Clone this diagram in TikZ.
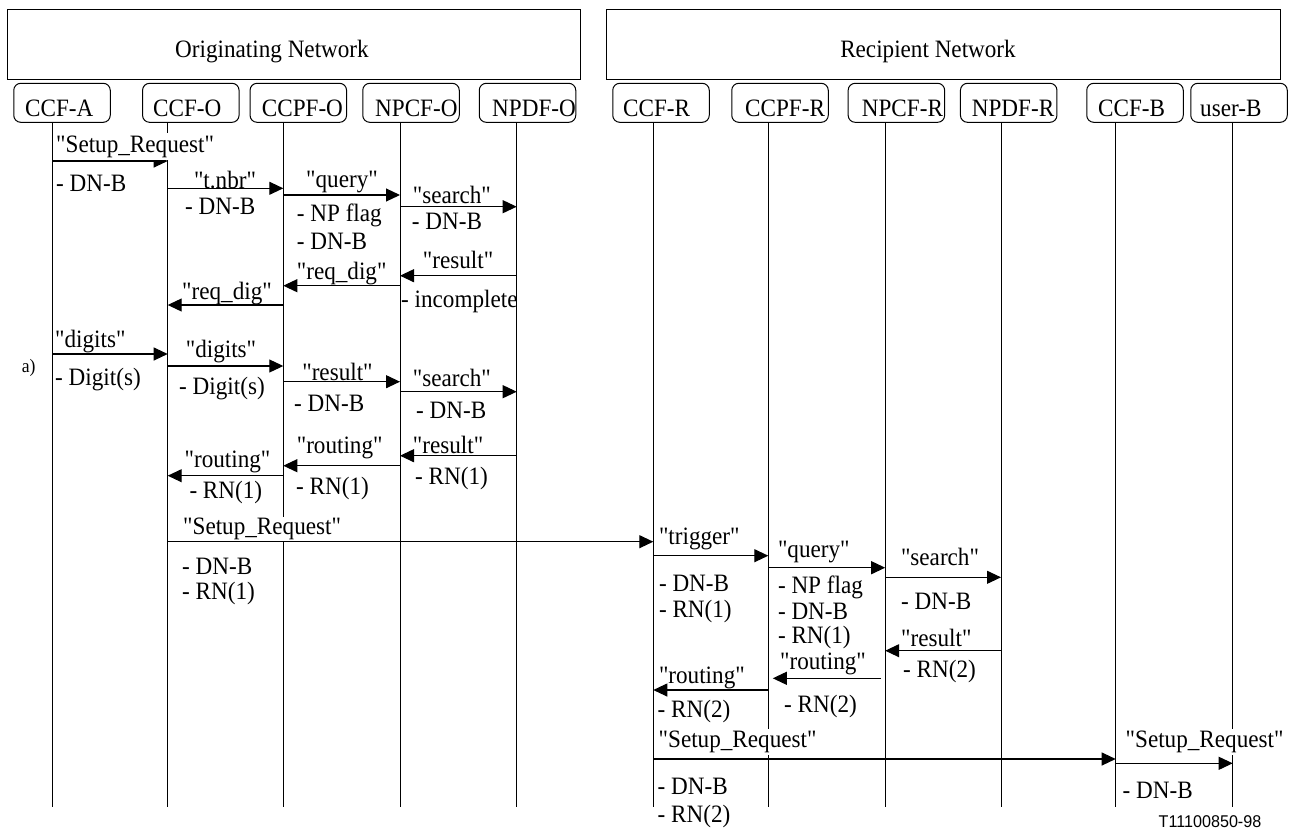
\documentclass[tikz,border=0pt]{standalone}
\usepackage{fontspec}
\setmainfont{Liberation Serif}[Ligatures=TeXOff, FakeStretch=0.926]
\newfontfamily\figsans{Liberation Sans}[FakeStretch=0.95]
\usetikzlibrary{arrows.meta}
\newcommand\lblfont{\fontsize{25pt}{29pt}\selectfont}
\newcommand\msgline[3]{\draw[msg] (#1 |- 0,#3) -- (#2 |- 0,#3);}
\newcommand\lifeline[1]{\draw[life] (#1) -- (#1 |- 0,806.7);}
\begin{document}
\begin{tikzpicture}[x=1pt,y=-1pt,
  every node/.style={inner sep=0pt, font=\lblfont},
  netbox/.style={draw, line width=1pt, minimum height=69.7pt},
  hdrbox/.style={draw, line width=1pt, rounded corners=7pt, minimum width=96.5pt, minimum height=39pt},
  hdrtxt/.style={anchor=base west},
  life/.style={line width=1pt},
  msg/.style={line width=1.1pt, -{Triangle[length=14pt,width=13pt]}},
  lab/.style={anchor=west},
  clab/.style={anchor=center},
  covlab/.style={fill=white, inner xsep=1pt, inner ysep=2pt, anchor=west},
]
\useasboundingbox (0,0) rectangle (1295,830);

% network boxes
\node[netbox, minimum width=572.7pt] (orig) at (293.65,44.15) {};
\node[anchor=base] (origtxt) at (272,57.3) {Originating Network};
\node[netbox, minimum width=674pt] (recip) at (943,44.15) {};
\node[anchor=base] (reciptxt) at (928,57.3) {Recipient Network};

% header boxes
\node[hdrbox] (ccfA)  at (62,102.8) {};
\node[hdrbox] (ccfO)  at (190.8,102.8) {};
\node[hdrbox] (ccpfO) at (298.3,102.8) {};
\node[hdrbox] (npcfO) at (411,102.8) {};
\node[hdrbox] (npdfO) at (527.5,102.8) {};
\node[hdrbox] (ccfR)  at (661,102.8) {};
\node[hdrbox] (ccpfR) at (780,102.8) {};
\node[hdrbox] (npcfR) at (896.4,102.8) {};
\node[hdrbox] (npdfR) at (1008.7,102.8) {};
\node[hdrbox] (ccfB)  at (1135,102.8) {};
\node[hdrbox] (userB) at (1239,102.8) {};

\node[hdrtxt] (tA)  at (25,116.7) {CCF-A};
\node[hdrtxt] (tO)  at (153,116.7) {CCF-O};
\node[hdrtxt] (tP)  at (261.7,116.7) {CCPF-O};
\node[hdrtxt] (tN)  at (375,116.7) {NPCF-O};
\node[hdrtxt] (tD)  at (492,116.7) {NPDF-O};
\node[hdrtxt] (tR)  at (623,116.7) {CCF-R};
\node[hdrtxt] (tRP) at (745,116.7) {CCPF-R};
\node[hdrtxt] (tRN) at (861.7,116.7) {NPCF-R};
\node[hdrtxt] (tRD) at (971.7,116.7) {NPDF-R};
\node[hdrtxt] (tB)  at (1098,116.7) {CCF-B};
\node[hdrtxt] (tU)  at (1200,116.7) {user-B};

% lifelines
\coordinate (lA)  at (52.3,122.3);
\coordinate (lO)  at (167.7,122.3);
\coordinate (lP)  at (283.3,122.3);
\coordinate (lN)  at (400,122.3);
\coordinate (lD)  at (516.7,122.3);
\coordinate (lR)  at (653.3,122.3);
\coordinate (lRP) at (768.3,122.3);
\coordinate (lRN) at (885.2,122.3);
\coordinate (lRD) at (1001,122.3);
\coordinate (lB)  at (1115.7,122.3);
\coordinate (lU)  at (1232.7,122.3);
\foreach \l in {lA,lO,lP,lN,lD,lR,lRP,lRN,lRD,lB,lU} {\lifeline{\l}}

% messages
\msgline{lA}{lO}{161}
\msgline{lO}{lP}{188.3}
\msgline{lP}{lN}{195}
\msgline{lN}{lD}{206.7}
\msgline{lD}{lN}{275.7}
\msgline{lN}{lP}{285.7}
\msgline{lP}{lO}{305}
\msgline{lA}{lO}{354}
\msgline{lO}{lP}{366}
\msgline{lP}{lN}{381.7}
\msgline{lN}{lD}{391.7}
\msgline{lD}{lN}{455.7}
\msgline{lN}{lP}{465.7}
\msgline{lP}{lO}{475.7}
\msgline{lO}{lR}{541.7}
\msgline{lR}{lRP}{555.7}
\msgline{lRP}{lRN}{567.7}
\msgline{lRN}{lRD}{577.3}
\msgline{lRD}{lRN}{650.7}
\draw[msg, shorten <=4pt, shorten >=4.5pt] (lRN |- 0,678.3) -- (lRP |- 0,678.3);
\msgline{lRP}{lR}{690}
\msgline{lR}{lB}{759}
\msgline{lB}{lU}{763.3}

% labels
\node[covlab, anchor=south west, inner ysep=2.5pt] (m1) at (55,160.5) {"Setup\_Request"};
\node[lab] (p1) at (56,183.3) {- DN-B};
\node[clab] (m2) at (225,180) {"t.nbr"};
\node[lab] (p2) at (185,206) {- DN-B};
\node[clab] (m3) at (342,181.7) {"query"};
\node[lab] (p3a) at (296.7,215) {- NP flag};
\node[lab] (p3b) at (296.7,241) {- DN-B};
\node[lab] (m4) at (412.7,195) {"search"};
\node[lab] (p4) at (411.7,221.7) {- DN-B};
\node[lab] (m5) at (422.7,260) {"result"};
\node[clab] (m6) at (341.7,274) {"req\_dig"};
\node[clab] (m7) at (227,293.3) {"req\_dig"};
\node[lab] (p5) at (401,301.7) {- incomplete};
\node[lab] (m8) at (55,341.7) {"digits"};
\node[lab] (p8) at (55,380) {- Digit(s)};
\node[font=\fontsize{19pt}{21pt}\selectfont] (case) at (28.7,368.3) {a)};
\node[clab] (m9) at (221,351.7) {"digits"};
\node[lab] (p9) at (179,388.3) {- Digit(s)};
\node[clab] (m10) at (337.5,371.7) {"result"};
\node[lab] (p10) at (294,403.3) {- DN-B};
\node[lab] (m11) at (412.7,378.3) {"search"};
\node[lab] (p11) at (416,410) {- DN-B};
\node[lab] (m12) at (412.7,445) {"result"};
\node[lab] (p12) at (415,478.3) {- RN(1)};
\node[clab] (m13) at (339.7,448.3) {"routing"};
\node[lab] (p13) at (296,488.3) {- RN(1)};
\node[clab] (m14) at (227.5,461.7) {"routing"};
\node[lab] (p14) at (189.3,492.3) {- RN(1)};
\node[covlab, anchor=south west, inner ysep=1pt] (m15) at (182,541.2) {"Setup\_Request"};
\node[lab] (p15a) at (182,566.7) {- DN-B};
\node[lab] (p15b) at (182,593.3) {- RN(1)};
\node[lab] (m16) at (658.8,539.3) {"trigger"};
\node[lab] (p16a) at (658.8,583.3) {- DN-B};
\node[lab] (p16b) at (658.8,611.7) {- RN(1)};
\node[lab] (m17) at (777.8,551.7) {"query"};
\node[lab] (p17a) at (777.8,587) {- NP flag};
\node[lab] (p17b) at (777.8,611) {- DN-B};
\node[lab] (p17c) at (777.8,637.5) {- RN(1)};
\node[clab] (m18) at (940,556.7) {"search"};
\node[lab] (p18) at (901,601.7) {- DN-B};
\node[lab] (m19) at (901,638.3) {"result"};
\node[lab] (p19) at (903,671.7) {- RN(2)};
\node[clab] (m20) at (823,664) {"routing"};
\node[lab] (p20) at (784,706.7) {- RN(2)};
\node[lab] (m21) at (658.8,678.3) {"routing"};
\node[lab] (p21) at (657.5,711.7) {- RN(2)};
\node[covlab] (m22) at (657.5,741.7) {"Setup\_Request"};
\node[lab] (p22a) at (657.5,786.7) {- DN-B};
\node[lab] (p22b) at (657.5,816.7) {- RN(2)};
\node[covlab] (m23) at (1124.5,741.7) {"Setup\_Request"};
\node[lab] (p23) at (1122.5,790) {- DN-B};

\node[font=\figsans\fontsize{17pt}{20pt}\selectfont] (fig) at (1210,822) {T11100850-98};
\end{tikzpicture}
\end{document}
